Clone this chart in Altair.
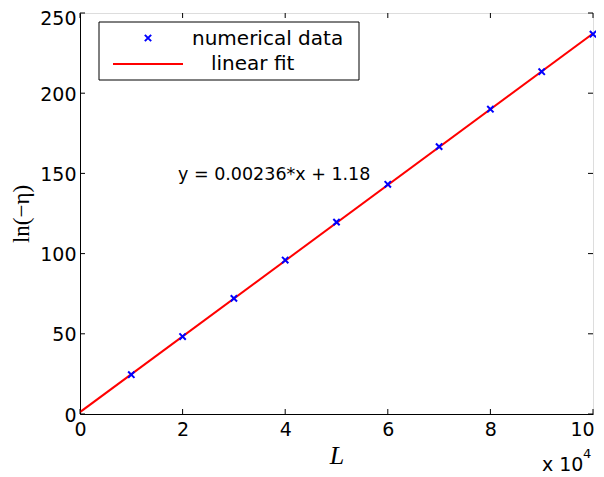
import altair as alt
import pandas as pd

# data
L_vals = [10000, 20000, 30000, 40000, 50000, 60000, 70000, 80000, 90000, 100000]
ln_eta = [24.5, 48.3, 72.1, 96.0, 119.6, 143.2, 166.7, 190.0, 213.4, 236.8]
fit_L = [0, 100000]
fit_y = [1.18, 237.18]
x_ticks = [0, 20000, 40000, 60000, 80000, 100000]
y_ticks = [0, 50, 100, 150, 200, 250]

W, H = 513, 401
FONT = "DejaVu Sans"

pts = pd.DataFrame({"L": L_vals, "y": ln_eta})
fit = pd.DataFrame({"L": fit_L, "y": fit_y})
xt = pd.DataFrame({"L": x_ticks})
yt = pd.DataFrame({"y": y_ticks})

xscale = alt.Scale(domain=[0, 100000], nice=False, zero=False)
yscale = alt.Scale(domain=[0, 250], nice=False, zero=False)

xaxis = alt.Axis(values=x_ticks, labelExpr="datum.value/10000", ticks=False, grid=False,
                 labelFont=FONT, labelFontSize=19, labelColor="black", labelPadding=6,
                 labelFlush=False, labelOverlap=False, domainColor="black",
                 labelOffset={"condition": {"test": "datum.value == 100000", "value": -11},
                              "value": 0},
                 title="L", titleFont="Liberation Serif", titleFontStyle="italic",
                 titleFontWeight="normal", titleFontSize=26, titlePadding=3, titleColor="black")
yaxis = alt.Axis(values=y_ticks, ticks=False, grid=False,
                 labelFont=FONT, labelFontSize=19, labelColor="black", labelPadding=4,
                 labelFlush=False, labelOverlap=False, domainColor="black",
                 labelOffset={"condition": {"test": "datum.value == 250", "value": 5},
                              "value": 1},
                 title="ln(−η)", titleFont="Liberation Serif", titleFontWeight="normal",
                 titleFontSize=23, titlePadding=6, titleColor="black")

line = alt.Chart(fit).mark_line(color="#ff0000", strokeWidth=2, clip=True).encode(
    x=alt.X("L:Q", scale=xscale, axis=xaxis),
    y=alt.Y("y:Q", scale=yscale, axis=yaxis),
)

xshape = "M-1,-1L1,1M-1,1L1,-1"
points = alt.Chart(pts).mark_point(shape=xshape, size=40, filled=False, color="#0000ff",
                                   strokeWidth=2, opacity=1).encode(
    x=alt.X("L:Q", scale=xscale), y=alt.Y("y:Q", scale=yscale))

tick_bottom = alt.Chart(xt).mark_rule(color="black").encode(
    x=alt.X("L:Q", scale=xscale), y=alt.value(H), y2=alt.value(H - 5))
tick_top = alt.Chart(xt).mark_rule(color="black").encode(
    x=alt.X("L:Q", scale=xscale), y=alt.value(0), y2=alt.value(5))
tick_left = alt.Chart(yt).mark_rule(color="black").encode(
    y=alt.Y("y:Q", scale=yscale), x=alt.value(0), x2=alt.value(5))
tick_right = alt.Chart(yt).mark_rule(color="black").encode(
    y=alt.Y("y:Q", scale=yscale), x=alt.value(W), x2=alt.value(W - 5))

annot = alt.Chart(pd.DataFrame({"t": ["y = 0.00236*x + 1.18"]})).mark_text(
    align="left", baseline="middle", font=FONT, fontSize=17.5, color="black").encode(
    x=alt.value(98), y=alt.value(162), text="t:N")

# legend
leg_box = alt.Chart(pd.DataFrame({"a": [0]})).mark_rect(
    fill="white", stroke="black", strokeWidth=1).encode(
    x=alt.value(19), x2=alt.value(279), y=alt.value(9), y2=alt.value(67))
leg_sym = alt.Chart(pd.DataFrame({"a": [0]})).mark_point(
    shape=xshape, size=40, filled=False, color="#0000ff", strokeWidth=2, opacity=1).encode(
    x=alt.value(68), y=alt.value(25))
leg_line = alt.Chart(pd.DataFrame({"a": [0]})).mark_rule(color="#ff0000", strokeWidth=2).encode(
    x=alt.value(33), x2=alt.value(103), y=alt.value(51))
leg_txt = alt.Chart(pd.DataFrame({"t": ["numerical data", "linear fit"],
                                  "px": [112, 131], "py": [26, 51]})).mark_text(
    align="left", baseline="middle", font=FONT, fontSize=20, color="black").encode(
    x=alt.X("px:Q", scale=None), y=alt.Y("py:Q", scale=None), text="t:N")

exp_txt = alt.Chart(pd.DataFrame({"t": ["x 10"]})).mark_text(
    align="left", baseline="middle", font=FONT, fontSize=19, color="black").encode(
    x=alt.value(462), y=alt.value(452), text="t:N")
exp_sup = alt.Chart(pd.DataFrame({"t": ["4"]})).mark_text(
    align="left", baseline="middle", font=FONT, fontSize=13, color="black").encode(
    x=alt.value(503), y=alt.value(441), text="t:N")

chart = alt.layer(
    line, points, tick_bottom, tick_top, tick_left, tick_right, annot,
    leg_box, leg_sym, leg_line, leg_txt, exp_txt, exp_sup
).properties(
    width=W, height=H,
    autosize=alt.AutoSizeParams(type="none"),
    padding={"left": 72, "top": 5, "right": 3, "bottom": 62},
).configure_view(stroke="black", strokeWidth=1).configure(background="white")

chart.save("out.html", embed_options={"renderer": "svg", "actions": False})
